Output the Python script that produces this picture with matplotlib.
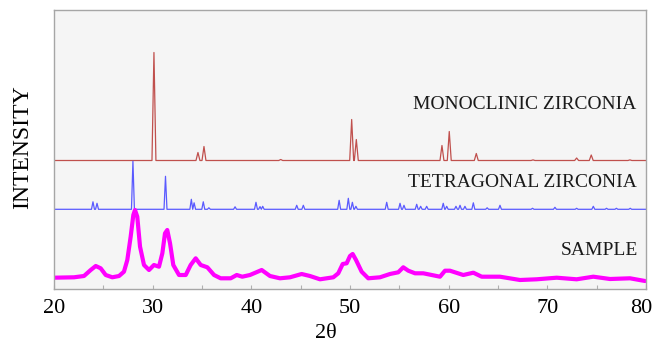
import matplotlib
matplotlib.use("Agg")
import matplotlib.pyplot as plt
import matplotlib.transforms as mtransforms
import numpy as np

# ---------------- data ----------------
# Monoclinic zirconia reference peaks: position (2theta) and height (a.u.)
mono_pos = [30.13, 34.59, 35.20, 42.98, 50.17, 50.64, 59.32, 60.06, 62.80, 68.55, 72.97, 74.45, 78.37]
mono_h   = [108.0, 8.0, 14.0, 1.0, 41.0, 21.0, 15.0, 29.0, 7.0, 0.6, 2.5, 5.5, 0.6]
mono_base = 128.5

# Tetragonal zirconia reference peaks
tetra_pos = [23.95, 24.36, 28.00, 31.30, 33.92, 34.20, 35.13, 35.70, 38.35, 40.47, 40.88, 41.15,
             44.60, 45.27, 48.90, 49.83, 50.24, 50.60, 53.72, 55.07, 55.47, 56.76, 57.16, 57.77,
             59.45, 59.80, 60.74, 61.15, 61.65, 62.50, 63.90, 65.20, 68.50, 70.77, 72.97, 74.66,
             76.00, 77.00, 78.40]
tetra_h   = [7.5, 6.0, 48.0, 33.0, 10.0, 6.5, 7.5, 1.5, 2.5, 7.0, 2.7, 3.0,
             4.0, 4.0, 9.0, 11.0, 7.0, 3.0, 7.0, 6.0, 4.0, 5.0, 3.0, 3.0,
             6.0, 3.0, 3.0, 4.0, 3.0, 6.5, 1.5, 4.0, 1.0, 2.0, 1.0, 3.0,
             1.0, 1.0, 1.0]
tetra_base = 79.7

# Sample pattern (2theta, intensity a.u.)
sample_x = [20.00, 22.03, 23.04, 23.72, 24.23, 24.73, 25.24, 25.91, 26.59, 27.09, 27.43, 27.77,
            28.04, 28.21, 28.44, 28.72, 29.12, 29.63, 30.13, 30.64, 30.98, 31.25, 31.48, 31.76,
            32.09, 32.67, 33.35, 33.85, 34.36, 34.87, 35.54, 36.22, 36.89, 37.91, 38.52, 39.08,
            39.86, 41.05, 41.89, 42.90, 43.92, 45.10, 45.94, 46.96, 48.31, 48.81, 49.26, 49.66,
            50.00, 50.27, 50.61, 51.18, 51.85, 53.04, 54.05, 54.89, 55.40, 55.91, 56.59, 57.43,
            58.28, 59.12, 59.63, 60.13, 61.48, 62.50, 63.35, 65.20, 67.23, 68.92, 70.95, 72.97,
            74.66, 76.35, 78.38, 79.90]
sample_y = [11.3, 11.7, 13.0, 19.0, 23.0, 20.7, 14.0, 11.7, 13.0, 17.3, 29.0, 52.3,
            74.0, 79.0, 72.3, 42.3, 24.0, 19.0, 24.0, 22.3, 35.7, 55.7, 59.0, 45.7,
            24.0, 14.0, 14.0, 24.0, 30.7, 24.0, 21.7, 14.0, 10.7, 10.7, 14.0, 12.3,
            14.0, 19.0, 13.0, 10.7, 11.7, 15.0, 13.0, 9.7, 11.7, 15.7, 25.0, 25.7,
            33.0, 35.0, 29.0, 17.3, 10.7, 11.7, 15.0, 16.7, 21.7, 18.3, 15.7, 15.7,
            14.0, 12.3, 18.3, 18.3, 14.0, 16.3, 12.3, 12.3, 9.0, 9.7, 11.3, 9.7,
            12.3, 10.0, 10.7, 8.0]

x_ticks = [20, 30, 40, 50, 60, 70, 80]
labels = ["MONOCLINIC ZIRCONIA", "TETRAGONAL ZIRCONIA", "SAMPLE"]


def stick_path(pos, h, base, hw, xmin=20, xmax=80):
    order = np.argsort(pos)
    pos = np.asarray(pos)[order]
    h = np.asarray(h)[order]
    xs, ys = [xmin], [base]
    for i, (p, hh) in enumerate(zip(pos, h)):
        lo = p - hw
        hi = p + hw
        if i > 0:
            lo = max(lo, (pos[i - 1] + p) / 2)
        if i < len(pos) - 1:
            hi = min(hi, (pos[i + 1] + p) / 2)
        xs += [lo, p, hi]
        ys += [base, base + hh, base]
    xs.append(xmax)
    ys.append(base)
    return xs, ys


serif = ["Liberation Serif", "DejaVu Serif"]

fig = plt.figure(figsize=(6.54, 3.42), dpi=100)
ax = fig.add_axes([54 / 654, 1 - 289 / 342, (646 - 54) / 654, (289 - 10) / 342])
ax.set_facecolor("#f5f5f5")

mx, my = stick_path(mono_pos, mono_h, mono_base, 0.2)
ax.plot(mx, my, color="#c0504d", lw=0.9)
tx, ty = stick_path(tetra_pos, tetra_h, tetra_base, 0.15)
ax.plot(tx, ty, color="#5a5aff", lw=0.9)
ax.plot(sample_x, sample_y, color="#ff00ff", lw=3.0, solid_joinstyle="round",
        solid_capstyle="round")

ax.set_xlim(20, 80)
ax.set_ylim(0, 279)
ax.set_yticks([])
ax.set_xticks(x_ticks)
ax.set_xticks(np.arange(25, 80, 10), minor=True)
ax.set_xticklabels([str(t) for t in x_ticks], fontsize=16, family=serif)
ax.tick_params(axis="x", which="both", direction="in", length=3, width=0.8,
               color="#b0b0b0", pad=7)
for s in ax.spines.values():
    s.set_color("#a6a6a6")
    s.set_linewidth(1.0)

# nudge the last tick label inward so it stays inside the figure
last = ax.get_xticklabels()[-1]
last.set_transform(last.get_transform() +
                   mtransforms.ScaledTranslation(-5 / 100, 0, fig.dpi_scale_trans))

ax.text(79.0, 179.7, labels[0], ha="right", va="baseline", fontsize=14,
        family=serif, color="#1a1a1a")
ax.text(79.1, 102.3, labels[1], ha="right", va="baseline", fontsize=14,
        family=serif, color="#1a1a1a")
ax.text(79.2, 34.0, labels[2], ha="right", va="baseline", fontsize=14,
        family=serif, color="#1a1a1a")

fig.text(326 / 654, 1 - 333 / 342, "2θ", ha="center", va="center", fontsize=16,
         family=serif)
fig.text(23 / 654, 1 - 147 / 342, "INTENSITY", ha="center", va="center",
         rotation=90, fontsize=17, family=serif)

fig.savefig("out.png", dpi=100)
